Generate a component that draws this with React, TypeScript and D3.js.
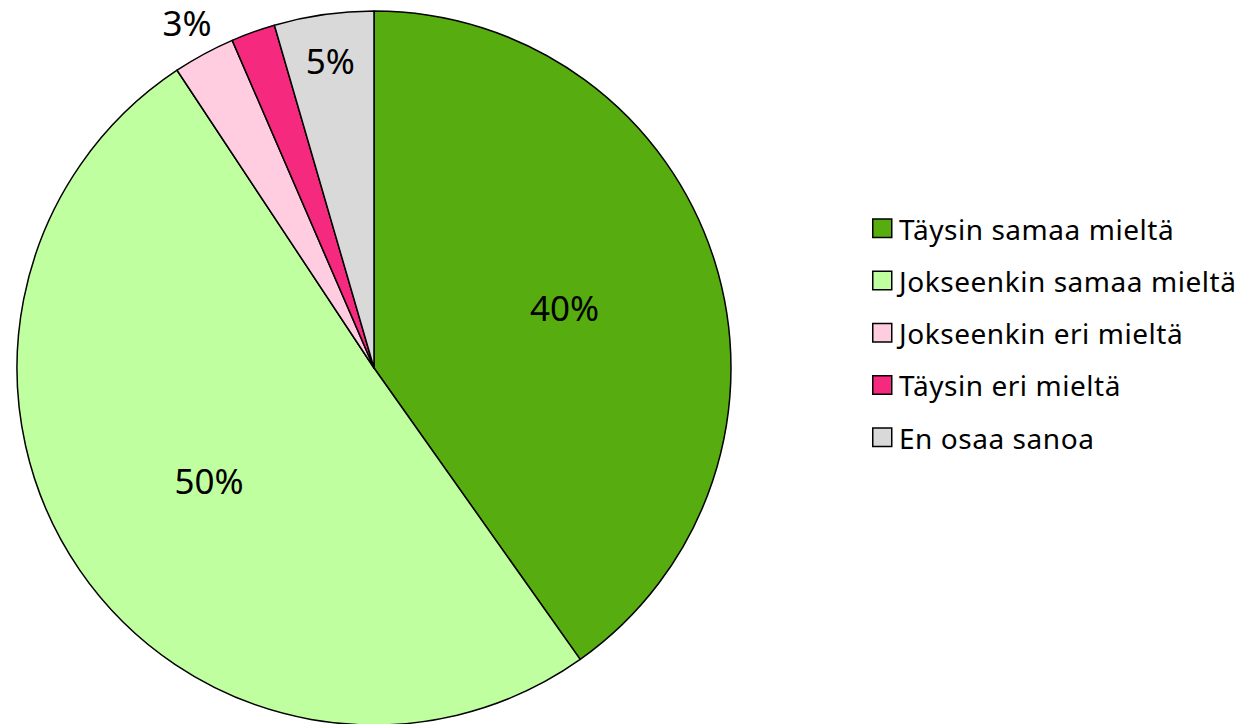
import { useEffect, useRef } from "react"
import * as d3 from "d3"

const categories = [
  "Täysin samaa mieltä",
  "Jokseenkin samaa mieltä",
  "Jokseenkin eri mieltä",
  "Täysin eri mieltä",
  "En osaa sanoa",
]
const values = [40.2, 50.5, 2.8, 2.0, 4.5]
const labels = ["40%", "50%", "3%", "", "5%"]
const colors = ["#57ad10", "#c0ff9f", "#ffcce0", "#f52a7f", "#d9d9d9"]

interface Slice {
  name: string
  value: number
  label: string
  color: string
}

const App = () => {
  const svgRef = useRef<SVGSVGElement | null>(null)

  useEffect(() => {
    if (!svgRef.current) return
    const svg = d3.select(svgRef.current)
    svg.selectAll("*").remove()

    const cx = 374
    const cy = 368
    const radius = 357
    const font = "'Noto Sans', sans-serif"

    const data: Slice[] = categories.map((name, i) => ({
      name,
      value: values[i],
      label: labels[i],
      color: colors[i],
    }))
    const total = d3.sum(values)

    const pie = d3
      .pie<Slice>()
      .sort(null)
      .value((d) => d.value)
    const arcs = pie(data)

    const arc = d3.arc<d3.PieArcDatum<Slice>>().innerRadius(0).outerRadius(radius)

    const g = svg.append("g").attr("transform", `translate(${cx},${cy})`)

    g.selectAll(".slice")
      .data(arcs)
      .join("path")
      .attr("class", "slice")
      .attr("d", arc)
      .attr("fill", (d) => d.data.color)
      .attr("stroke", "#000")
      .attr("stroke-width", 1.5)
      .attr("stroke-linejoin", "round")

    // label radius depends on slice size: small ones go outside
    const labelRadius = (d: d3.PieArcDatum<Slice>) => {
      const share = d.data.value / total
      if (share < 0.04) return radius * 1.1
      if (share < 0.1) return radius * 0.87
      return radius * 0.56
    }

    g.selectAll(".slice-label")
      .data(arcs.filter((d) => d.data.label !== ""))
      .join("text")
      .attr("class", "slice-label")
      .attr("transform", (d) => {
        const r = labelRadius(d)
        const [x, y] = d3.arc<d3.PieArcDatum<Slice>>().innerRadius(r).outerRadius(r).centroid(d)
        return `translate(${x},${y})`
      })
      .attr("text-anchor", "middle")
      .attr("dominant-baseline", "central")
      .attr("font-family", font)
      .attr("font-size", 35)
      .attr("fill", "#000")
      .text((d) => d.data.label)

    // Legend
    const legendY = d3
      .scalePoint<string>()
      .domain(categories)
      .range([228.5, 437.5])

    const legend = svg
      .append("g")
      .selectAll(".legend-item")
      .data(data)
      .join("g")
      .attr("class", "legend-item")
      .attr("transform", (d) => `translate(872,${legendY(d.name)})`)

    legend
      .append("rect")
      .attr("x", 0.75)
      .attr("y", -9.5)
      .attr("width", 19)
      .attr("height", 18.5)
      .attr("fill", (d) => d.color)
      .attr("stroke", "#000")
      .attr("stroke-width", 1.5)

    legend
      .append("text")
      .attr("x", 27)
      .attr("y", 0)
      .attr("dominant-baseline", "central")
      .attr("font-family", font)
      .attr("font-size", 28)
      .attr("letter-spacing", 0.55)
      .attr("fill", "#000")
      .text((d) => d.name)
  }, [])

  return (
    <div style={{ position: "absolute", left: 0, top: 0 }}>
      <svg ref={svgRef} width={1243} height={724} style={{ display: "block", background: "#fff" }} />
    </div>
  )
}

export default App
